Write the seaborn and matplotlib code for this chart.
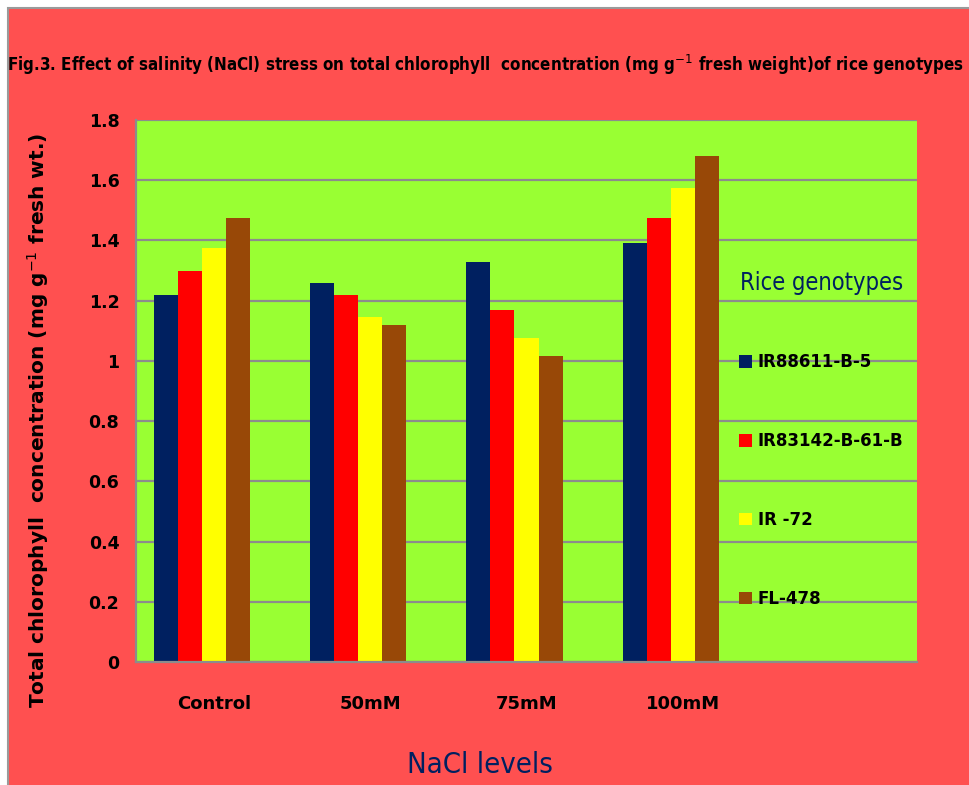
import matplotlib
matplotlib.use("Agg")
import matplotlib.pyplot as plt
import matplotlib.ticker as mticker
from matplotlib.patches import Rectangle
import numpy as np
import pandas as pd
import seaborn as sns

# data
levels = ['Control', '50mM', '75mM', '100mM']
genotypes = ['IR88611-B-5', 'IR83142-B-61-B', 'IR -72', 'FL-478']
ir88611 = [1.22, 1.26, 1.33, 1.39]
ir83142 = [1.30, 1.22, 1.17, 1.475]
ir72 = [1.375, 1.145, 1.075, 1.575]
fl478 = [1.475, 1.12, 1.015, 1.68]

colors = ['#002060', '#FF0000', '#FFFF00', '#984807']

rows = []
for g, vals in zip(genotypes, [ir88611, ir83142, ir72, fl478]):
    for lev, v in zip(levels, vals):
        rows.append({'level': lev, 'genotype': g, 'value': v})
df = pd.DataFrame(rows)

sns.set_style('white')
plt.rcParams['text.color'] = 'black'
plt.rcParams['xtick.labelcolor'] = 'black'
plt.rcParams['ytick.labelcolor'] = 'black'
plt.rcParams['axes.labelcolor'] = 'black'

fig = plt.figure(figsize=(9.7, 7.85), dpi=100)
fig.patch.set_facecolor('white')
fig.patches.append(Rectangle((8 / 970, -0.01), 1.0, 1 - 8 / 785 + 0.01,
                             transform=fig.transFigure, facecolor='#FF5050',
                             edgecolor='#9A9A9A', linewidth=1.5, zorder=-10))
ax = fig.add_axes([0.1402, 0.1567, 0.8052, 0.6904])
ax.set_facecolor('#99FF33')

# empty 5th category and dummy 5th hue, like the Excel original
pal = dict(zip(genotypes + [' '], colors + ['#99FF33']))
sns.barplot(data=df, x='level', y='value', hue='genotype',
            order=levels + [''], hue_order=genotypes + [' '],
            palette=pal, width=0.77, saturation=1, linewidth=0, ax=ax)

ax.set_ylim(0, 1.8)
ax.set_xlim(-0.5, 4.5)
ax.set_yticks(np.arange(0, 1.81, 0.2))
ax.yaxis.set_major_formatter(mticker.FuncFormatter(lambda v, p: f'{v:g}'))
ax.grid(axis='y', color='#8C8C8C', linewidth=1.6)
ax.set_axisbelow(True)
for s in ['top', 'right']:
    ax.spines[s].set_visible(False)
for s in ['left', 'bottom']:
    ax.spines[s].set_color('#8C8C8C')
    ax.spines[s].set_linewidth(1.6)

ax.set_xticks(np.arange(-0.5, 4.6, 1), minor=True)
ax.tick_params(axis='x', which='minor', length=6, color='#8C8C8C', width=1.5)
ax.tick_params(axis='x', which='major', length=0, pad=24, labelsize=13)
ax.tick_params(axis='y', length=6, color='#8C8C8C', width=1.5, labelsize=12.5, pad=6)
for lab in ax.get_xticklabels() + ax.get_yticklabels():
    lab.set_fontweight('bold')

ax.set_xlabel('NaCl levels', fontsize=21, fontstretch='condensed', color='#002060')
ax.xaxis.set_label_coords(0.44, -0.165)
ax.set_ylabel('Total chlorophyll  concentration (mg g$^{-1}$ fresh wt.)',
              fontsize=14.5, fontweight='bold')
ax.yaxis.set_label_coords(-0.109, 0.4465)

fig.text(0.5, 0.917,
         'Fig.3. Effect of salinity (NaCl) stress on total chlorophyll  concentration '
         '(mg g$^{-1}$ fresh weight)of rice genotypes',
         ha='center', va='center', fontsize=12.2, fontweight='bold',
         fontstretch='condensed')

handles, labels = ax.get_legend_handles_labels()
keep = [i for i, l in enumerate(labels) if l in genotypes]
leg = ax.legend([handles[i] for i in keep], [labels[i] for i in keep],
                title='Rice genotypes', loc='upper left',
                bbox_to_anchor=(0.761, 0.737), frameon=False,
                prop={'weight': 'bold', 'size': 12},
                handlelength=0.8, handleheight=0.8, handletextpad=0.35,
                labelspacing=3.65, borderpad=0, alignment='center')
leg.get_title().set_fontstretch('condensed')
leg.get_title().set_fontsize(17)
leg.get_title().set_color('#002060')
leg._legend_box.sep = 42

fig.savefig('out.png', dpi=100, facecolor=fig.get_facecolor())
